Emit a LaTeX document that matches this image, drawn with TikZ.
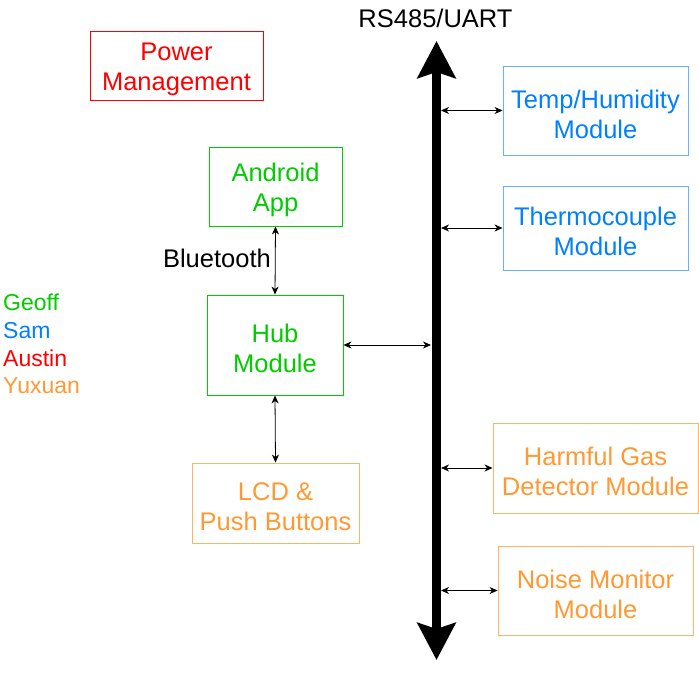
\documentclass[tikz,border=0pt]{standalone}
\usepackage{fontspec}
\setmainfont{Liberation Sans}
\usetikzlibrary{arrows.meta}
\definecolor{cgreen}{HTML}{00CC00}
\definecolor{cblue}{HTML}{007FFF}
\definecolor{cbluel}{HTML}{66B2FF}
\definecolor{cred}{HTML}{FF0000}
\definecolor{corange}{HTML}{FF9933}
\definecolor{corangel}{HTML}{FFB366}
\newcommand{\toplift}{\rule{0pt}{25.5pt}}
\begin{document}
\begin{tikzpicture}[x=1pt,y=-1pt,
  box/.style={draw, line width=0.9pt, inner sep=0pt, align=center,
    font=\fontsize{25.5}{30}\selectfont},
  greenbox/.style={box, draw=cgreen, text=cgreen},
  bluebox/.style={box, draw=cbluel, text=cblue},
  redbox/.style={box, draw=cred, text=cred},
  orangebox/.style={box, draw=corangel, text=corange},
  lbl/.style={inner sep=0pt, font=\fontsize{25.5}{30}\selectfont},
  who/.style={inner sep=0pt, anchor=base west, font=\fontsize{23}{28}\selectfont},
  link/.style={line width=0.8pt, {Stealth[length=8pt,width=7pt,inset=2.5pt]}-{Stealth[length=8pt,width=7pt,inset=2.5pt]}},
  busline/.style={line width=9pt, {Stealth[length=37pt,width=38pt,inset=6pt]}-{Stealth[length=37pt,width=38pt,inset=6pt]}}
]
\useasboundingbox (0,0) rectangle (699,675);

% bus
\coordinate (bustop) at (436.5,41);
\coordinate (busbot) at (436.5,660);
\coordinate (busR) at (441,41);
\coordinate (busL) at (431,41);
\draw[busline] (bustop) -- (busbot);
\node[lbl, anchor=base] (rs) at (435.5,27) {RS485/UART};

% boxes
\node[redbox, minimum width=173pt, minimum height=69pt] (power) at (176.5,65.5) {\toplift Power\\Management};
\node[greenbox, minimum width=133pt, minimum height=79pt] (android) at (275.5,186.5) {\toplift Android\\App};
\node[greenbox, minimum width=136pt, minimum height=100pt] (hub) at (275,345) {\toplift Hub\\Module};
\node[orangebox, minimum width=167pt, minimum height=80pt] (lcd) at (275.5,503) {\toplift LCD \&\\Push Buttons};
\node[bluebox, minimum width=185pt, minimum height=89pt] (temp) at (595.5,110.5) {\toplift Temp/Humidity\\Module};
\node[bluebox, minimum width=185pt, minimum height=84pt] (thermo) at (595.5,228) {\toplift Thermocouple\\Module};
\node[orangebox, minimum width=205pt, minimum height=90pt] (gas) at (595.5,468) {\toplift Harmful Gas\\Detector Module};
\node[orangebox, minimum width=195pt, minimum height=89pt] (noise) at (595.5,590.5) {\toplift Noise Monitor\\Module};

% labels
\node[lbl, anchor=base east] (bt) at (271,267) {Bluetooth};
\node[who, text=cgreen] (geoff) at (3,310) {Geoff};
\node[who, text=cblue] (sam) at (3,338) {Sam};
\node[who, text=cred] (austin) at (3,366) {Austin};
\node[who, text=corange] (yuxuan) at (3,393) {Yuxuan};

% connectors
\draw[link] (android.south) -- (hub.north);
\draw[link] (hub.south) -- (lcd.north);
\draw[link] (hub.east) -- (hub.east -| busL);
\draw[link] (temp.west -| busR) -- (temp.west);
\draw[link] (thermo.west -| busR) -- (thermo.west);
\draw[link] (gas.west -| busR) -- (gas.west);
\draw[link] (noise.west -| busR) -- (noise.west);
\end{tikzpicture}
\end{document}
